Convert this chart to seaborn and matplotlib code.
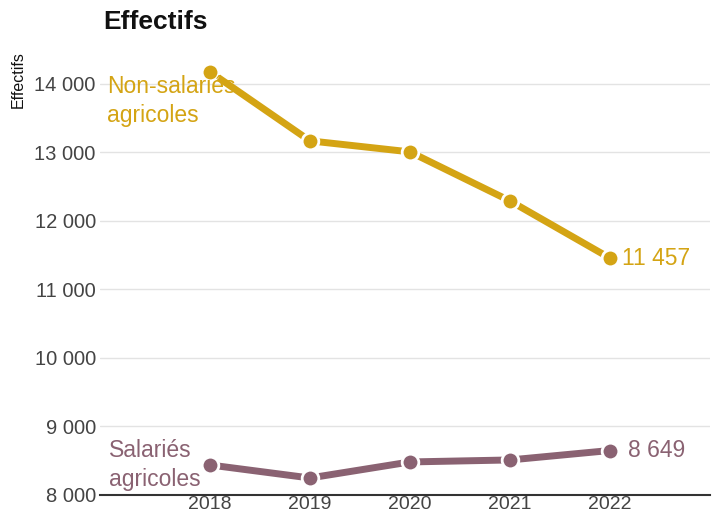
import matplotlib
matplotlib.use("Agg")
import matplotlib.pyplot as plt
import matplotlib.ticker as mticker
import seaborn as sns
import pandas as pd

years = [2018, 2019, 2020, 2021, 2022]
non_salaries = [14175, 13168, 13007, 12292, 11457]
salaries = [8438, 8248, 8482, 8511, 8649]
series_names = ["Non-salariés agricoles", "Salariés agricoles"]
colors = ["#d4a414", "#8a6272"]

df = pd.DataFrame({
    "annee": years * 2,
    "effectifs": non_salaries + salaries,
    "serie": [series_names[0]] * len(years) + [series_names[1]] * len(years),
})

sns.set_style("white")
plt.rcParams["font.family"] = ["Liberation Sans", "DejaVu Sans"]

fig = plt.figure(figsize=(7.12, 5.17), dpi=100)
ax = fig.add_axes([0.1404, 0.0426, 0.8566, 0.835])

sns.lineplot(data=df, x="annee", y="effectifs", hue="serie",
             palette=dict(zip(series_names, colors)), marker="o",
             markersize=12, markeredgecolor="white", markeredgewidth=2,
             linewidth=5, legend=False, ax=ax)

ax.set_xlim(2016.9, 2023.0)
ax.set_ylim(8000, 14300)
ax.set_xticks(years)
ax.set_yticks(range(8000, 14001, 1000))
ax.yaxis.set_major_formatter(mticker.FuncFormatter(
    lambda v, p: f"{int(v):,}".replace(",", " ")))
ax.tick_params(axis="both", length=0, labelsize=14.5, colors="#444444")
ax.tick_params(axis="y", pad=3)
ax.tick_params(axis="x", pad=1, labelsize=14)
ax.grid(axis="y", color="#e3e3e3", linewidth=1)
ax.set_axisbelow(True)
for s in ["top", "right", "left"]:
    ax.spines[s].set_visible(False)
ax.spines["bottom"].set_color("#333333")
ax.spines["bottom"].set_linewidth(1.5)
ax.set_xlabel("")
ax.set_ylabel("")

# series labels
ax.text(2016.97, 13752, "Non-salariés\nagricoles", color=colors[0],
        fontsize=16.5, va="center", ha="left", linespacing=1.3)
ax.text(2016.99, 8438, "Salariés\nagricoles", color=colors[1],
        fontsize=16.5, va="center", ha="left", linespacing=1.3)
ax.text(2022.12, non_salaries[-1], "11 457", color=colors[0],
        fontsize=16.5, va="center", ha="left")
ax.text(2022.18, salaries[-1], "8 649", color=colors[1],
        fontsize=16.5, va="center", ha="left")

fig.text(103 / 712, 1 - 22 / 517, "Effectifs", fontsize=19, fontweight="bold",
         va="center", ha="left", color="#111111")
fig.text(18 / 712, 1 - 80 / 517, "Effectifs", fontsize=11.5, rotation=90,
         va="center", ha="center", color="#111111")

fig.savefig("out.png", dpi=100)
